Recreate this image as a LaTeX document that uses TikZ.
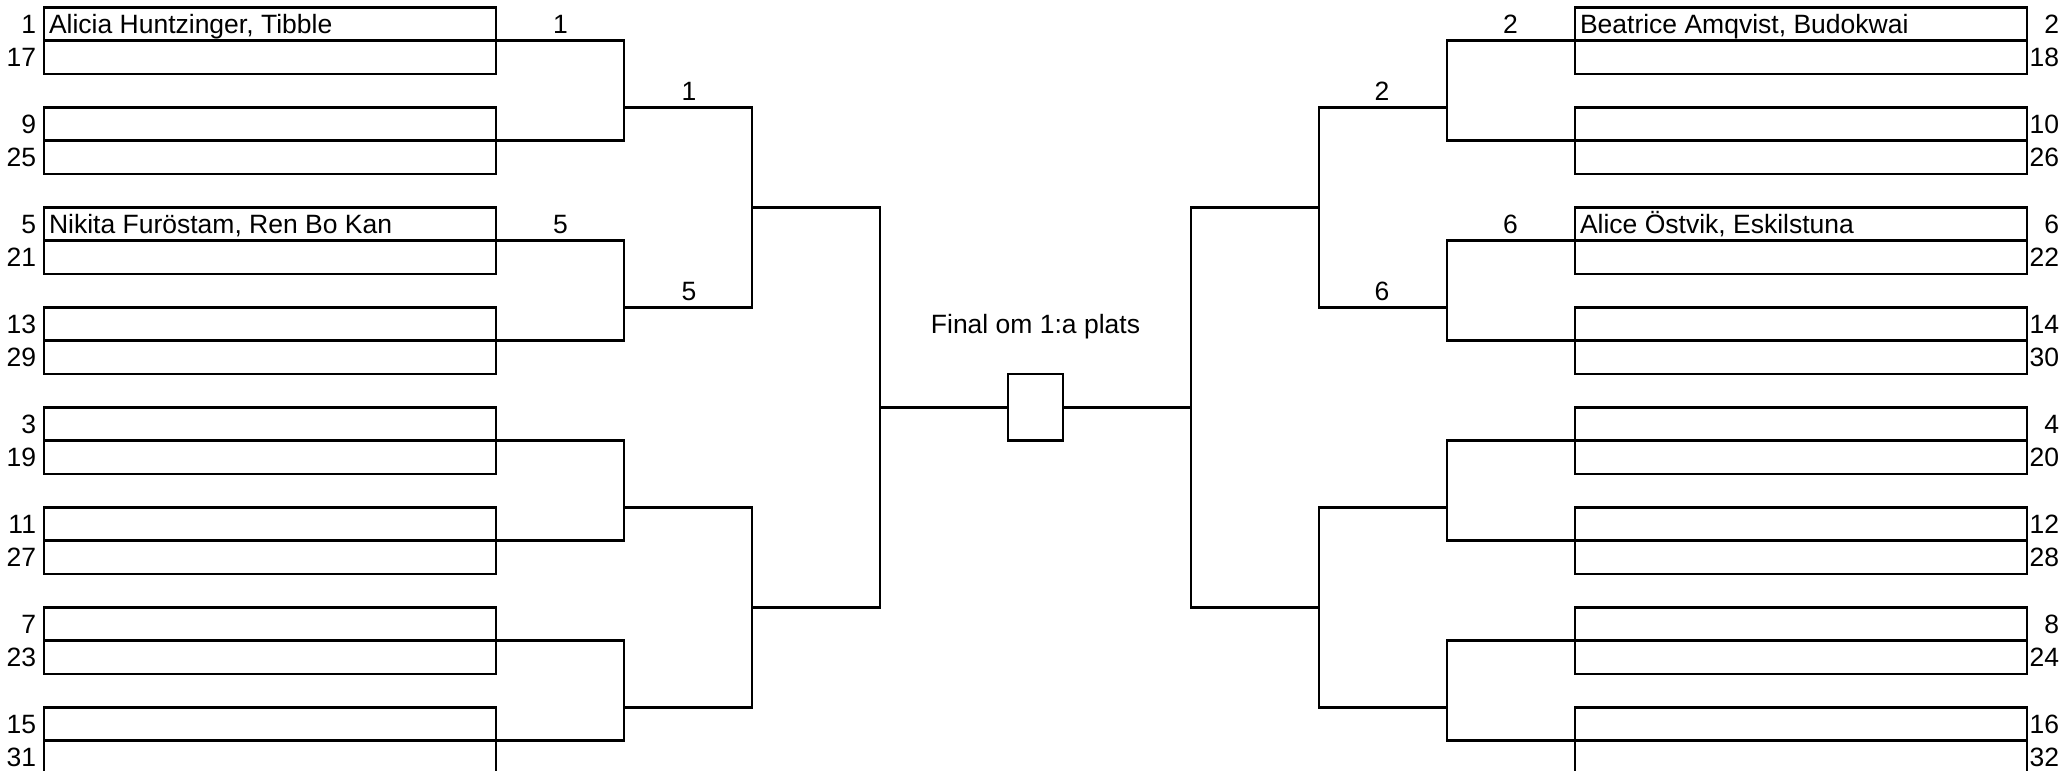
\documentclass[tikz,border=0pt]{standalone}
\usepackage{fontspec}
\setmainfont{Liberation Sans}
\begin{document}
\begin{tikzpicture}[x=1pt,y=-1pt,
  ln/.style={line width=2.7pt, line join=miter},
  slot/.style={draw, line width=2.7pt, minimum width=452pt, minimum height=33.333pt, inner sep=0pt, outer sep=0pt},
  finalbox/.style={draw, line width=2.7pt, minimum width=55pt, minimum height=66.667pt, inner sep=0pt, outer sep=0pt},
  txt/.style={font=\fontsize{26.5}{30}\selectfont, inner sep=0pt, outer sep=0pt}]
\useasboundingbox (0,0) rectangle (2065,771);

% ---------- left slots ----------
\foreach \k/\sa/\sb in {0/1/17,1/9/25,2/5/21,3/13/29,4/3/19,5/11/27,6/7/23,7/15/31} {
  \pgfmathsetmacro\ya{7.3+100*\k+16.667}
  \pgfmathsetmacro\yb{7.3+100*\k+50}
  \pgfmathtruncatemacro\ia{2*\k}
  \pgfmathtruncatemacro\ib{2*\k+1}
  \node[slot] (L\ia) at (270,\ya) {};
  \node[slot] (L\ib) at (270,\yb) {};
  \node[txt, anchor=base east] (LS\ia) at ([xshift=-8pt,yshift=7.3pt]L\ia.south west) {\sa};
  \node[txt, anchor=base east] (LS\ib) at ([xshift=-8pt,yshift=7.3pt]L\ib.south west) {\sb};
}
% ---------- right slots ----------
\foreach \k/\sa/\sb in {0/2/18,1/10/26,2/6/22,3/14/30,4/4/20,5/12/28,6/8/24,7/16/32} {
  \pgfmathsetmacro\ya{7.3+100*\k+16.667}
  \pgfmathsetmacro\yb{7.3+100*\k+50}
  \pgfmathtruncatemacro\ia{2*\k}
  \pgfmathtruncatemacro\ib{2*\k+1}
  \node[slot] (R\ia) at (1801,\ya) {};
  \node[slot] (R\ib) at (1801,\yb) {};
  \node[txt, anchor=base east] (RS\ia) at ([xshift=32pt,yshift=7.3pt]R\ia.south east) {\sa};
  \node[txt, anchor=base east] (RS\ib) at ([xshift=32pt,yshift=7.3pt]R\ib.south east) {\sb};
}

% ---------- names in slots ----------
\node[txt, anchor=base west] (n1) at ([xshift=5pt,yshift=7.3pt]L0.south west) {Alicia Huntzinger, Tibble};
\node[txt, anchor=base west] (n5) at ([xshift=5pt,yshift=7.3pt]L4.south west) {Nikita Furöstam, Ren Bo Kan};
\node[txt, anchor=base west] (n2) at ([xshift=5pt,yshift=7.3pt]R0.south west) {Beatrice Amqvist, Budokwai};
\node[txt, anchor=base west] (n6) at ([xshift=5pt,yshift=7.3pt]R4.south west) {Alice Östvik, Eskilstuna};

% ---------- round 1 ----------
\foreach \m in {0,1,2,3} {
  \pgfmathtruncatemacro\a{4*\m}
  \pgfmathtruncatemacro\b{4*\m+2}
  \coordinate (LW1-\m) at (624,{7.3+33.333*(6*\m+3)});
  \coordinate (RW1-\m) at (1447,{7.3+33.333*(6*\m+3)});
  \draw[ln] (L\a.south east) -| (LW1-\m) |- (L\b.south east);
  \draw[ln] (R\a.south west) -| (RW1-\m) |- (R\b.south west);
}
% ---------- round 2 ----------
\foreach \n in {0,1} {
  \pgfmathtruncatemacro\a{2*\n}
  \pgfmathtruncatemacro\b{2*\n+1}
  \coordinate (LW2-\n) at (752,{7.3+33.333*(12*\n+6)});
  \coordinate (RW2-\n) at (1319,{7.3+33.333*(12*\n+6)});
  \draw[ln] (LW1-\a) -| (LW2-\n) |- (LW1-\b);
  \draw[ln] (RW1-\a) -| (RW2-\n) |- (RW1-\b);
}
% ---------- round 3 and final ----------
\coordinate (LW3) at (880,{7.3+33.333*12});
\coordinate (RW3) at (1191,{7.3+33.333*12});
\draw[ln] (LW2-0) -| (LW3) |- (LW2-1);
\draw[ln] (RW2-0) -| (RW3) |- (RW2-1);
\node[finalbox] (final) at (1035.5,{7.3+33.333*12}) {};
\draw[ln] (LW3) -- (final.west);
\draw[ln] (RW3) -- (final.east);

% ---------- winner labels ----------
\node[txt, anchor=base] (l1a) at (560.5,33.3) {1};
\node[txt, anchor=base] (l5a) at (560.5,233.3) {5};
\node[txt, anchor=base] (l1b) at (689,100) {1};
\node[txt, anchor=base] (l5b) at (689,300) {5};
\node[txt, anchor=base] (r2a) at (1510.5,33.3) {2};
\node[txt, anchor=base] (r6a) at (1510.5,233.3) {6};
\node[txt, anchor=base] (r2b) at (1382,100) {2};
\node[txt, anchor=base] (r6b) at (1382,300) {6};
\node[txt, anchor=base] (ftitle) at (1035.5,333.3) {Final om 1:a plats};
\end{tikzpicture}
\end{document}
